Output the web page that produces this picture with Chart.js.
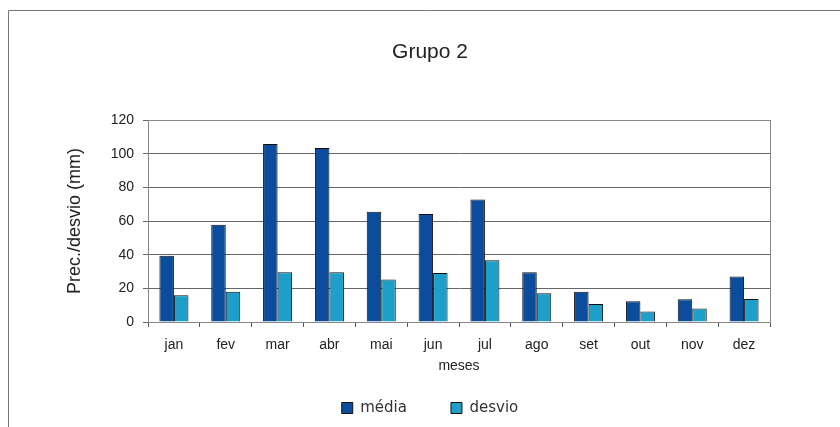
<!DOCTYPE html>
<html><head><meta charset="utf-8">
<script src="https://cdn.jsdelivr.net/npm/chart.js@4"></script>
<style>html,body{margin:0;padding:0;background:#fff}#wrap{width:840px;height:427px;position:relative}</style>
</head><body><div id="wrap"><canvas id="c" width="840" height="427"></canvas></div>
<script>
const categories = ['jan','fev','mar','abr','mai','jun','jul','ago','set','out','nov','dez'];
const media = [39.4, 57.7, 105.7, 103.3, 65.5, 64.1, 72.8, 29.5, 17.9, 12.4, 13.5, 27.1];
const desvio = [15.9, 17.9, 29.5, 29.5, 25.3, 29.1, 36.7, 17.1, 10.7, 6.2, 8.0, 13.7];
const yTicks = [0, 20, 40, 60, 80, 100, 120];

const frame = {
  id: 'frame',
  beforeDraw(chart) {
    const ctx = chart.ctx;
    ctx.save();
    ctx.fillStyle = '#fff';
    ctx.fillRect(0, 0, chart.width, chart.height);
    ctx.strokeStyle = '#777';
    ctx.lineWidth = 1;
    ctx.beginPath();
    ctx.moveTo(8.5, 427);
    ctx.lineTo(8.5, 10.5);
    ctx.lineTo(840, 10.5);
    ctx.stroke();
    ctx.restore();
  },
  afterDatasetsDraw(chart) {
    const a = chart.chartArea, ctx = chart.ctx;
    ctx.save();
    ctx.strokeStyle = '#888';
    ctx.lineWidth = 1;
    ctx.strokeRect(Math.round(a.left) + 0.5, Math.round(a.top) + 0.5, Math.round(a.right - a.left), Math.round(a.bottom - a.top));
    ctx.restore();
  }
};

new Chart(document.getElementById('c'), {
  type: 'bar',
  data: {
    labels: categories,
    datasets: [
      { label: 'média', data: media, backgroundColor: '#0b4d9c', borderColor: '#111', borderWidth: 1 },
      { label: 'desvio', data: desvio, backgroundColor: '#1e9fca', borderColor: '#111', borderWidth: 1 }
    ]
  },
  options: {
    responsive: false,
    animation: false,
    devicePixelRatio: 1,
    layout: { padding: { left: 90, right: 70, top: 30, bottom: 1.5 } },
    datasets: { bar: { categoryPercentage: 0.56, barPercentage: 1.0 } },
    plugins: {
      title: { display: true, text: 'Grupo 2', color: '#222', font: { family: 'Liberation Sans', size: 21, weight: 'normal' }, padding: { top: 10, bottom: 54.8 } },
      legend: {
        position: 'bottom',
        labels: { color: '#333', font: { family: 'DejaVu Sans', size: 15 }, boxWidth: 11, boxHeight: 11, padding: 44 }
      },
      tooltip: { enabled: false }
    },
    scales: {
      x: {
        grid: { display: true, drawOnChartArea: false, drawTicks: true, tickLength: 5, color: '#555', offset: true },
        border: { color: '#555' },
        ticks: { color: '#222', font: { family: 'Liberation Sans', size: 14 }, padding: 9.6 },
        title: { display: true, text: 'meses', color: '#222', font: { family: 'Liberation Sans', size: 14 }, padding: { top: -18.3, bottom: -18.3 } },
        afterFit(s) { s.height = 34.5; }
      },
      y: {
        min: 0, max: 120,
        afterBuildTicks(s) { s.ticks = yTicks.map(v => ({ value: v })); },
        grid: { color: '#666', tickLength: 5, drawTicks: true },
        border: { color: '#555' },
        ticks: { color: '#222', font: { family: 'Liberation Sans', size: 14 }, padding: 9 },
        title: { display: true, text: 'Prec./desvio (mm)', color: '#222', font: { family: 'Liberation Sans', size: 18 }, padding: { top: -25.8, bottom: 0 } },
        afterFit(s) { s.width = 58; }
      }
    }
  },
  plugins: [frame]
});
</script></body></html>
